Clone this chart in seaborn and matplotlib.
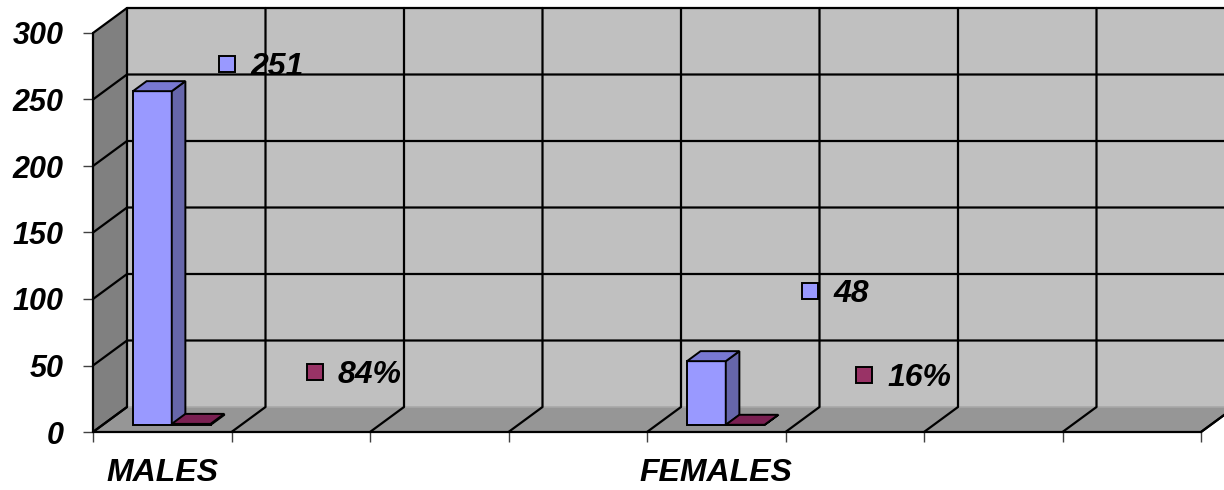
import matplotlib
matplotlib.use("Agg")
import numpy as np
import pandas as pd
import matplotlib.pyplot as plt
import seaborn as sns
from matplotlib.patches import Polygon
from matplotlib.lines import Line2D
from matplotlib.transforms import Affine2D, IdentityTransform, offset_copy

# ---------------- data ----------------
categories = ["MALES", "FEMALES"]
counts = [251, 48]
shares = [0.84, 0.16]
count_labels = ["251", "48"]
share_labels = ["84%", "16%"]
y_ticks = [0, 50, 100, 150, 200, 250, 300]
series_names = ["Count", "Share"]

# ---------------- layout / style ----------------
W, H = 1224, 490
N_SLOTS = 8
CAT_SLOT = [0, 4]                       # slot index of each category
DEPTH = (34.0, 25.0)                    # px shift from front plane to back wall
BAR_D0, BAR_D1 = 0.28, 0.68             # bar depth range (fraction)
COUNT_LABEL_POS = [(0.47, 277), (4.68, 106)]
SHARE_LABEL_POS = [(1.10, 45), (5.07, 43)]
BLUE, BLUE_TOP, BLUE_SIDE = "#9999FF", "#7878D2", "#6666AA"
MAROON, MAROON_TOP, MAROON_SIDE = "#993366", "#7A2052", "#66223F"
WALL, SIDE_WALL, FLOOR = "#C0C0C0", "#808080", "#969696"
FS = 22
FS_CAT = 23

sns.set_theme(style="white")
plt.rcParams["font.family"] = ["Liberation Sans", "DejaVu Sans"]

fig = plt.figure(figsize=(W / 100, H / 100), dpi=100)
ax = fig.add_axes([93 / W, 58 / H, 1108 / W, 399 / H])

order = []
for i in range(N_SLOTS):
    order.append(categories[CAT_SLOT.index(i)] if i in CAT_SLOT else f"_slot{i}")

df = pd.DataFrame({
    "category": categories * 2,
    "series": [series_names[0]] * len(categories) + [series_names[1]] * len(categories),
    "value": counts + shares,
})

sns.barplot(data=df, x="category", y="value", hue="series", order=order,
            palette=[BLUE, MAROON], width=0.56, saturation=1, edgecolor="black",
            linewidth=1.4, errorbar=None, legend=False, ax=ax)

x0_lim, x1_lim = -0.5, N_SLOTS - 0.5
ax.set_xlim(x0_lim, x1_lim)
ax.set_ylim(0, 300)
ax.patch.set_visible(False)
for s in ax.spines.values():
    s.set_visible(False)
ax.set_xlabel("")
ax.set_ylabel("")


def proj(x, y, d):
    px, py = ax.transData.transform((x, y))
    return (px + d * DEPTH[0], py + d * DEPTH[1])


def poly(pts, fc, z, lw=1.4, ec="black"):
    p = Polygon(pts, closed=True, facecolor=fc, edgecolor=ec, linewidth=lw,
                transform=IdentityTransform(), zorder=z, clip_on=False)
    ax.add_artist(p)


def line(pts, color="black", lw=1.6, z=2):
    xs, ys = zip(*pts)
    ax.add_artist(Line2D(xs, ys, color=color, linewidth=lw, transform=IdentityTransform(),
                         zorder=z, clip_on=False))


bars = list(ax.patches)

# walls
poly([proj(x0_lim, 0, 1), proj(x1_lim, 0, 1), proj(x1_lim, 300, 1), proj(x0_lim, 300, 1)],
     WALL, 0.1, lw=0)
poly([proj(x0_lim, 0, 0), proj(x0_lim, 300, 0), proj(x0_lim, 300, 1), proj(x0_lim, 0, 1)],
     SIDE_WALL, 0.2, lw=0)
poly([proj(x0_lim, 0, 0), proj(x1_lim, 0, 0), proj(x1_lim, 0, 1), proj(x0_lim, 0, 1)],
     FLOOR, 0.3, lw=0)

# gridlines
for v in y_ticks:
    if v == 0:
        line([proj(x0_lim, 0, 1), proj(x1_lim, 0, 1)], color="#A8A8A8", lw=1.2, z=0.5)
        line([proj(x0_lim, 0, 0), proj(x0_lim, 0, 1)])
    else:
        line([proj(x0_lim, v, 0), proj(x0_lim, v, 1), proj(x1_lim, v, 1)])
for k in range(N_SLOTS + 1):
    xb = x0_lim + k
    line([proj(xb, 0, 0), proj(xb, 0, 1), proj(xb, 300, 1)])
# frame edges
line([proj(x0_lim, 0, 0), proj(x0_lim, 300, 0)])
line([proj(x0_lim, 0, 0), proj(x1_lim, 0, 0)])
line([proj(x1_lim, 0, 0), proj(x1_lim, 0, 1)])

# 3D bars built from the seaborn bars
for b in bars:
    fc = b.get_facecolor()
    is_blue = np.allclose(fc[:3], matplotlib.colors.to_rgb(BLUE), atol=0.02)
    top_c = BLUE_TOP if is_blue else MAROON_TOP
    side_c = BLUE_SIDE if is_blue else MAROON_SIDE
    bx, bw, bh = b.get_x(), b.get_width(), b.get_height()
    b.set_transform(ax.transData + Affine2D().translate(BAR_D0 * DEPTH[0], BAR_D0 * DEPTH[1]))
    b.set_zorder(5)
    b.set_clip_on(False)
    poly([proj(bx + bw, 0, BAR_D0), proj(bx + bw, bh, BAR_D0),
          proj(bx + bw, bh, BAR_D1), proj(bx + bw, 0, BAR_D1)], side_c, 5)
    poly([proj(bx, bh, BAR_D0), proj(bx + bw, bh, BAR_D0),
          proj(bx + bw, bh, BAR_D1), proj(bx, bh, BAR_D1)], top_c, 5)

# ticks
ax.set_yticks(y_ticks)
ax.set_yticklabels([str(t) for t in y_ticks], fontsize=FS, fontweight="bold", style="italic")
ax.set_xticks([x0_lim + k for k in range(N_SLOTS + 1)])
ax.set_xticklabels([])
ax.set_xticks(CAT_SLOT, minor=True)
ax.set_xticklabels(categories, minor=True, fontsize=FS_CAT, fontweight="bold", style="italic")
ax.tick_params(axis="y", which="major", direction="out", length=7.2, width=1, color="#404040",
               pad=14, left=True, labelcolor="black")
ax.tick_params(axis="x", which="major", direction="out", length=7.2, width=1, color="#404040",
               bottom=True)
ax.tick_params(axis="x", which="minor", length=0, pad=18.5, labelcolor="black")

# data labels with legend keys
for labels, pos, col in [(count_labels, COUNT_LABEL_POS, BLUE), (share_labels, SHARE_LABEL_POS, MAROON)]:
    for lab, (lx, ly) in zip(labels, pos):
        ax.plot([lx], [ly], marker="s", markersize=11.5, markerfacecolor=col,
                markeredgecolor="black", markeredgewidth=1.4, linestyle="none",
                clip_on=False, zorder=6)
        ax.text(lx, ly, lab, transform=offset_copy(ax.transData, fig=fig, x=23, y=-3, units="dots"),
                ha="left", va="center", fontsize=FS_CAT, fontweight="bold", style="italic",
                color="black", zorder=6, clip_on=False)

fig.savefig("out.png", dpi=100)
